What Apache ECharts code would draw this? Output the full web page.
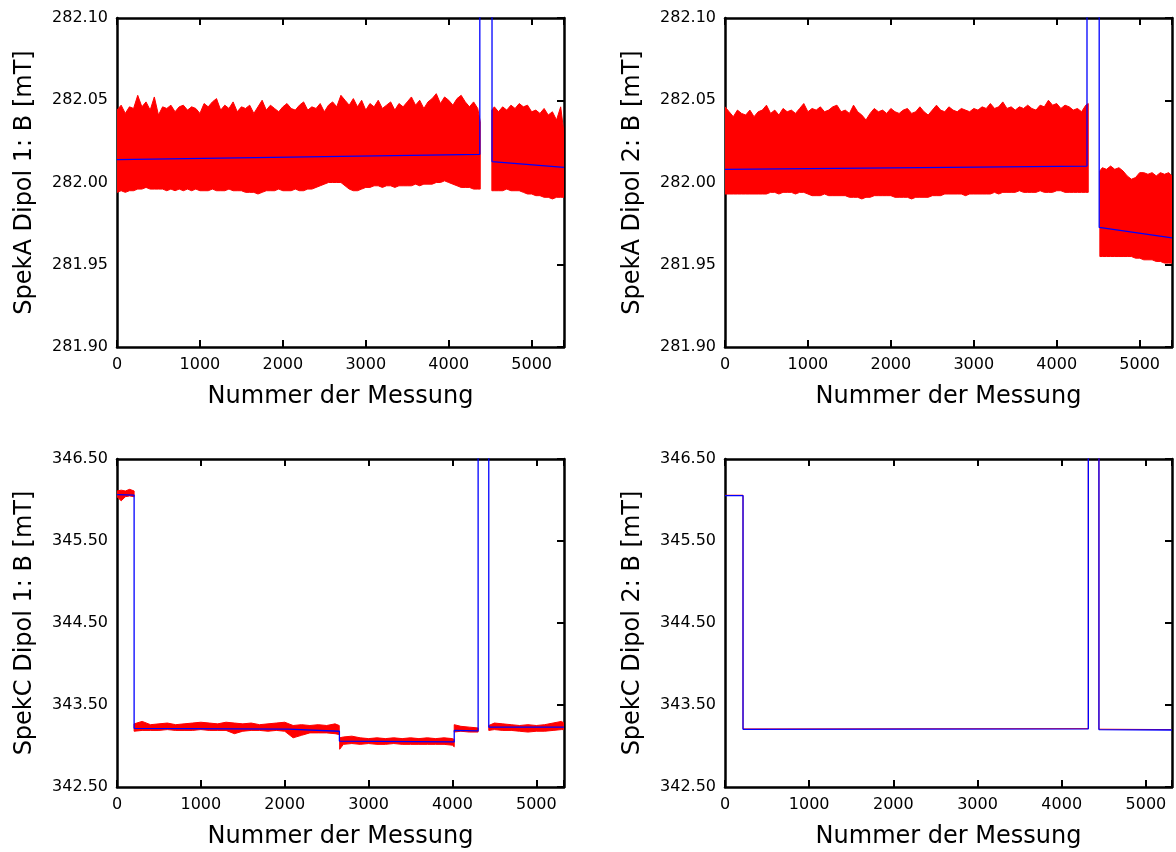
<!DOCTYPE html>
<html><head><meta charset="utf-8">
<script src="https://cdn.jsdelivr.net/npm/echarts@6/dist/echarts.min.js"></script>
<style>html,body{margin:0;padding:0;background:#fff}#c{width:1176px;height:852px}</style>
</head><body><div id="c"></div>
<script>
// ---------- tick labels / titles ----------
const xTickValues = [0, 1000, 2000, 3000, 4000, 5000];
const xTitle = 'Nummer der Messung';
const yTitles = ['SpekA Dipol 1: B [mT]', 'SpekA Dipol 2: B [mT]', 'SpekC Dipol 1: B [mT]', 'SpekC Dipol 2: B [mT]'];

// ---------- SpekA: red measurement band (upper / lower envelope) ----------
const xA_seg1 = [0,50,100,150,200,250,300,350,400,450,500,550,600,650,700,750,800,850,900,950,1000,1050,1100,1150,1200,1250,1300,1350,1400,1450,1500,1550,1600,1650,1700,1750,1800,1850,1900,1950,2000,2050,2100,2150,2200,2250,2300,2350,2400,2450,2500,2550,2600,2650,2700,2750,2800,2850,2900,2950,3000,3050,3100,3150,3200,3250,3300,3350,3400,3450,3500,3550,3600,3650,3700,3750,3800,3850,3900,3950,4000,4050,4100,4150,4200,4250,4300,4350,4380];
const xA_seg2 = [4520,4550,4600,4650,4700,4750,4800,4850,4900,4950,5000,5050,5100,5150,5200,5250,5300,5350,5390];

const a1Upper1 = [282.044,282.047,282.042,282.046,282.045,282.053,282.046,282.049,282.044,282.052,
282.041,282.046,282.045,282.047,282.043,282.046,282.047,282.044,282.046,282.045,
282.042,282.048,282.046,282.049,282.051,282.044,282.047,282.045,282.049,282.043,
282.046,282.045,282.047,282.042,282.046,282.050,282.044,282.047,282.045,282.043,
282.046,282.048,282.045,282.044,282.047,282.049,282.044,282.046,282.045,282.048,
282.043,282.047,282.049,282.046,282.053,282.050,282.047,282.051,282.046,282.050,
282.044,282.048,282.046,282.050,282.045,282.047,282.049,282.044,282.048,282.046,
282.049,282.052,282.047,282.050,282.045,282.049,282.051,282.054,282.048,282.052,
282.050,282.047,282.051,282.053,282.049,282.046,282.049,282.045,282.037];
const a1Lower1 = [281.994,281.995,281.994,281.995,281.995,
281.996,281.996,281.997,281.996,281.996,281.996,
281.996,281.995,281.996,281.995,281.996,281.995,281.996,281.995,281.996,281.995,
281.995,281.995,281.996,281.995,281.995,281.995,281.996,281.995,281.995,281.995,
281.994,281.994,281.994,281.993,281.994,281.995,
281.995,281.995,281.996,281.995,281.995,281.995,281.996,281.995,281.995,281.996,
281.996,281.997,281.998,281.999,282.000,282.000,282.000,282.000,
281.998,281.996,281.995,281.995,281.996,281.997,
281.997,281.998,281.998,281.997,281.998,281.998,281.997,281.998,281.998,281.998,
281.998,281.999,281.998,281.999,281.999,281.999,282.000,282.000,282.001,282.000,
281.999,281.998,281.997,281.997,281.997,281.996,281.996,281.996];
const a1Upper2 = [282.044,282.046,282.043,282.046,282.044,282.047,282.045,282.048,282.046,282.047,282.043,282.044,282.042,282.045,282.041,282.043,282.038,282.046,282.030];
const a1Lower2 = [281.995,281.995,281.995,281.995,281.996,281.995,281.995,281.995,281.994,281.993,281.993,281.992,281.992,281.991,281.991,281.990,281.991,281.991,281.991];

const a2Upper1 = [282.046,282.043,282.040,282.044,282.042,282.041,282.044,282.040,282.043,282.044,
282.047,282.042,282.044,282.041,282.045,282.043,282.044,282.042,282.045,282.048,
282.043,282.045,282.044,282.046,282.043,282.044,282.046,282.047,282.043,282.044,
282.042,282.047,282.043,282.041,282.038,282.042,282.045,282.043,282.044,282.042,
282.045,282.043,282.042,282.044,282.045,282.042,282.043,282.046,282.043,282.041,
282.044,282.047,282.044,282.043,282.046,282.044,282.043,282.045,282.044,282.043,
282.045,282.044,282.046,282.045,282.048,282.045,282.046,282.049,282.045,282.046,
282.044,282.046,282.045,282.047,282.045,282.044,282.047,282.046,282.050,282.047,
282.048,282.045,282.047,282.046,282.044,282.045,282.043,282.047,282.048];
const a2Lower1 = [281.993,281.993,281.993,281.993,281.993,281.993,281.993,281.993,281.993,281.993,281.993,
281.994,281.994,281.993,281.994,281.994,281.994,281.993,281.994,281.994,
281.993,281.992,281.992,281.992,281.993,281.992,281.992,281.992,281.992,281.992,
281.991,281.991,281.991,281.990,281.991,281.991,
281.992,281.992,281.992,281.992,281.992,
281.991,281.991,281.991,281.991,281.990,281.991,281.991,281.991,281.991,
281.992,281.992,281.992,281.993,281.993,
281.993,281.993,281.993,281.992,281.993,281.993,281.993,281.993,281.993,281.993,281.994,281.993,281.994,
281.994,281.994,281.994,281.995,281.994,281.994,281.994,281.994,281.995,281.994,281.994,281.994,281.995,281.995,281.994,281.994,281.994,281.994,281.994,281.994,281.994];
const a2Upper2 = [282.007,282.009,282.008,282.010,282.008,282.009,282.007,282.004,282.002,282.003,282.006,282.006,282.005,282.006,282.004,282.006,282.005,282.006,282.004];
const a2Lower2 = [281.955,281.955,281.955,281.955,281.955,281.955,281.955,281.955,281.955,281.954,281.954,281.953,281.953,281.953,281.952,281.952,281.951,281.951,281.951];

// ---------- SpekA: blue fit ----------
const fitA1X = [0, 4375, 4375, 4522, 4522, 5390];
const fitA1Y = [282.0139, 282.0171, 282.5, 282.5, 282.0127, 282.0092];
const fitA2X = [0, 4365, 4365, 4512, 4512, 5390];
const fitA2Y = [282.008, 282.010, 282.5, 282.5, 281.9727, 281.9664];

// ---------- SpekC Dipol 1: red band segments ----------
const xC1_s1 = [0, 50, 100, 150, 204];
const c1Up_s1 = [346.11, 346.12, 346.11, 346.13, 346.11];
const c1Lo_s1 = [346.04, 345.99, 346.04, 346.05, 346.04];
const xC1_s2 = [204,300,400,500,600,700,800,900,1000,1100,1200,1300,1400,1500,1600,1700,1800,1900,2000,2100,2200,2300,2400,2500,2600,2650];
const c1Up_s2 = [343.27,343.30,343.26,343.27,343.28,343.26,343.27,343.28,343.29,343.28,343.27,343.29,343.28,343.27,343.28,343.26,343.27,343.28,343.29,343.25,343.26,343.25,343.26,343.25,343.27,343.25];
const c1Lo_s2 = [343.18,343.19,343.19,343.19,343.20,343.19,343.19,343.19,343.20,343.19,343.19,343.19,343.15,343.18,343.19,343.19,343.18,343.19,343.18,343.10,343.13,343.16,343.16,343.16,343.15,343.14];
const xC1_s3 = [2655,2700,2800,2900,3000,3100,3200,3300,3400,3500,3600,3700,3800,3900,4000,4021];
const c1Up_s3 = [343.10,343.11,343.12,343.10,343.09,343.10,343.09,343.10,343.09,343.10,343.09,343.10,343.09,343.10,343.09,343.08];
const c1Lo_s3 = [342.96,343.02,343.03,343.02,343.03,343.02,343.02,343.03,343.02,343.02,343.02,343.02,343.02,343.02,343.01,342.99];
const xC1_s4 = [4021, 4100, 4200, 4306];
const c1Up_s4 = [343.26, 343.24, 343.23, 343.22];
const c1Lo_s4 = [343.17, 343.18, 343.17, 343.17];
const xC1_s5 = [4433,4500,4600,4700,4800,4900,5000,5100,5200,5300,5330];
const c1Up_s5 = [343.25,343.28,343.27,343.26,343.25,343.26,343.25,343.26,343.28,343.30,343.28];
const c1Lo_s5 = [343.19,343.20,343.19,343.19,343.18,343.17,343.18,343.18,343.19,343.20,343.20];

// ---------- SpekC: blue fit / red measurement ----------
const fitC1X = [0, 204, 204, 2040, 2040, 2652, 2652, 4021, 4021, 4306, 4306, 4433, 4433, 5330];
const fitC1Y = [346.065, 346.06, 343.215, 343.205, 343.185, 343.18, 343.06, 343.05, 343.19, 343.185, 347.5, 347.5, 343.23, 343.23];
const measC2X = [0, 214, 214, 4316, 4316, 4442, 4442, 5310];
const measC2Y = [346.058, 346.058, 343.208, 343.212, 347.5, 347.5, 343.205, 343.20];
const fitC2X = [0, 214, 214, 4316, 4316, 4442, 4442, 5310];
const fitC2Y = [346.053, 346.053, 343.203, 343.21, 347.5, 347.5, 343.20, 343.195];

// ---------- chart ----------
const FONT = 'DejaVu Sans';
const RED = '#ff0000', BLUE = '#0000ff';
const panels = [
  {grid: {left: 117, top: 18, width: 447, height: 329}, xMax: 5390, yMin: 281.90, yMax: 282.10, yInt: 0.05},
  {grid: {left: 725, top: 18, width: 447, height: 329}, xMax: 5390, yMin: 281.90, yMax: 282.10, yInt: 0.05},
  {grid: {left: 117, top: 459, width: 447, height: 328}, xMax: 5330, yMin: 342.50, yMax: 346.50, yInt: 1},
  {grid: {left: 725, top: 459, width: 447, height: 328}, xMax: 5310, yMin: 342.50, yMax: 346.50, yInt: 1}
];
const grids = [], xAxes = [], yAxes = [];
const axisLine = {onZero: false, lineStyle: {color: '#000', width: 2.5}};
panels.forEach((p, i) => {
  grids.push(Object.assign({containLabel: false}, p.grid));
  const xBase = {type: 'value', gridIndex: i, min: 0, max: p.xMax, interval: 1000,
    axisLine: axisLine, splitLine: {show: false},
    axisTick: {inside: true, length: 7, lineStyle: {color: '#000', width: 2}}};
  xAxes.push(Object.assign({}, xBase, {position: 'bottom',
    axisLabel: {color: '#000', fontFamily: FONT, fontSize: 16, margin: 10,
      formatter: v => xTickValues.indexOf(v) >= 0 ? String(v) : ''},
    name: xTitle, nameLocation: 'middle', nameGap: 38,
    nameTextStyle: {fontFamily: FONT, fontSize: 24, color: '#000'}}));
  xAxes.push(Object.assign({}, xBase, {position: 'top', axisLabel: {show: false}}));
  const yBase = {type: 'value', gridIndex: i, min: p.yMin, max: p.yMax, interval: p.yInt,
    axisLine: axisLine, splitLine: {show: false}};
  yAxes.push(Object.assign({}, yBase, {position: 'left', axisTick: {show: false},
    axisLabel: {color: '#000', fontFamily: FONT, fontSize: 16, margin: 9, formatter: v => v.toFixed(2)},
    name: yTitles[i], nameLocation: 'middle', nameGap: 80, nameRotate: 90,
    nameTextStyle: {fontFamily: FONT, fontSize: 24, color: '#000'}}));
  yAxes.push(Object.assign({}, yBase, {position: 'right', axisLabel: {show: false},
    axisTick: {inside: true, length: 7, lineStyle: {color: '#000', width: 2}}}));
});

const series = [];
// red envelope band drawn as one polygon through the axis scales
function band(panel, xs, lo, up) {
  series.push({type: 'custom', xAxisIndex: 2 * panel, yAxisIndex: 2 * panel, silent: true, z: 2, clip: true,
    data: xs.map((x, k) => [x, lo[k], up[k]]),
    encode: {x: 0, y: [1, 2]},
    renderItem: function (params, api) {
      if (params.dataIndex !== 0) return null;
      const pts = [];
      for (let k = 0; k < xs.length; k++) pts.push(api.coord([xs[k], up[k]]));
      for (let k = xs.length - 1; k >= 0; k--) pts.push(api.coord([xs[k], lo[k]]));
      return {type: 'polygon', shape: {points: pts},
        style: {fill: RED, stroke: RED, lineWidth: 1}};
    }});
}
function line(panel, xs, ys, color, width, z) {
  series.push({type: 'line', xAxisIndex: 2 * panel, yAxisIndex: 2 * panel, symbol: 'none', silent: true, z: z,
    data: xs.map((x, k) => [x, ys[k]]), lineStyle: {color: color, width: width}});
}
band(0, xA_seg1, a1Lower1, a1Upper1);
band(0, xA_seg2, a1Lower2, a1Upper2);
band(1, xA_seg1, a2Lower1, a2Upper1);
band(1, xA_seg2, a2Lower2, a2Upper2);
band(2, xC1_s1, c1Lo_s1, c1Up_s1);
band(2, xC1_s2, c1Lo_s2, c1Up_s2);
band(2, xC1_s3, c1Lo_s3, c1Up_s3);
band(2, xC1_s4, c1Lo_s4, c1Up_s4);
band(2, xC1_s5, c1Lo_s5, c1Up_s5);
line(3, measC2X, measC2Y, RED, 1, 2);
line(0, fitA1X, fitA1Y, BLUE, 1.3, 5);
line(1, fitA2X, fitA2Y, BLUE, 1.3, 5);
line(2, fitC1X, fitC1Y, BLUE, 1.3, 5);
line(3, fitC2X, fitC2Y, BLUE, 1.3, 5);

const chart = echarts.init(document.getElementById('c'), null, {renderer: 'canvas'});
chart.setOption({animation: false, backgroundColor: '#fff', grid: grids, xAxis: xAxes, yAxis: yAxes, series: series});
</script></body></html>
